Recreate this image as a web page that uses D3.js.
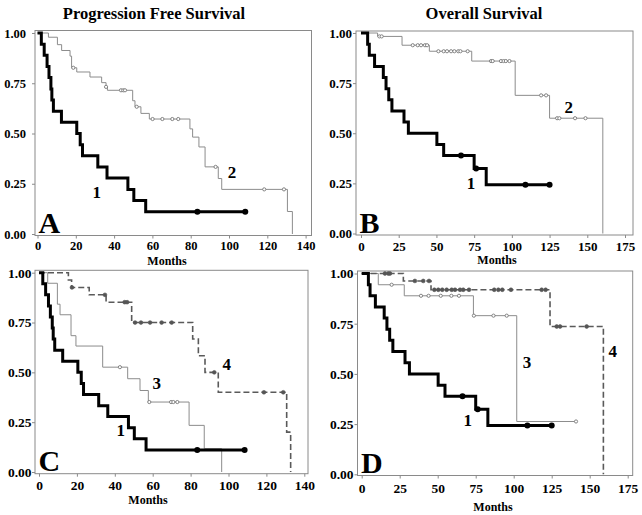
<!DOCTYPE html>
<html><head><meta charset="utf-8">
<script src="https://cdn.jsdelivr.net/npm/d3@7"></script>
<style>
body{margin:0;background:#fff;}
svg{display:block;}
text{font-family:"Liberation Serif","Times New Roman",serif;font-weight:bold;fill:#000;}
</style></head>
<body><svg id="c" width="642" height="515"></svg>
<script>
// ---------- data ----------
const yTicks = [0, 0.25, 0.5, 0.75, 1];
const pfsXTicks = [0, 20, 40, 60, 80, 100, 120, 140];
const osXTicks = [0, 25, 50, 75, 100, 125, 150, 175];
const panelTitles = ["Progression Free Survival", "Overall Survival"];
const panelLetters = ["A", "B", "C", "D"];
const axisLabel = "Months";

// Progression free survival, group 1
const pfs1Times = [2, 3.5, 5, 6, 7, 7.5, 8.3, 12.5, 20.5, 22.3, 23.5, 31.5, 36.3, 47.2, 50.3, 56.5];
const pfs1Surv  = [0.944, 0.889, 0.833, 0.778, 0.722, 0.667, 0.611, 0.556, 0.5, 0.444, 0.389, 0.333, 0.278, 0.222, 0.167, 0.111];
const pfs1Censor = [83.5, 108.5];
// PFS group 2
const pfs2Times = [5.7, 10.4, 12.6, 17.0, 17.8, 20.5, 27.4, 33.5, 35.8, 36.5, 49.7, 50.9, 54.0, 58.4, 79.6, 81.0, 84.3, 87.5, 94.4, 96.2, 130.5, 133.1];
const pfs2Surv  = [0.979, 0.942, 0.913, 0.885, 0.827, 0.806, 0.781, 0.753, 0.732, 0.715, 0.663, 0.633, 0.600, 0.572, 0.523, 0.482, 0.433, 0.334, 0.276, 0.222, 0.112, 0];
const pfs2Censor = [18.7, 35.8, 43.6, 44.8, 45.7, 51.8, 60.1, 65.2, 70.4, 73.5, 93.0, 118.4, 128.7];
// PFS group 3
const pfs3Times = [4.6, 9.7, 11.1, 16.9, 19.5, 33.6, 46.8, 53.3, 57.7, 79.2, 87.2, 96.4];
const pfs3Surv  = [0.947, 0.842, 0.789, 0.684, 0.632, 0.526, 0.468, 0.409, 0.351, 0.234, 0.117, 0];
const pfs3Censor = [42.7, 58.2, 69.7, 70.9, 73.0];
// PFS group 4
const pfs4Times = [15.5, 17.2, 26.5, 35.4, 48.9, 81.1, 84.1, 87.6, 94.6, 130.7, 132.8];
const pfs4Surv  = [0.963, 0.926, 0.889, 0.852, 0.75, 0.667, 0.583, 0.5, 0.4, 0.2, 0];
const pfs4Censor = [17.4, 34.8, 45.2, 46.5, 50.7, 53.8, 58.6, 64.7, 70.0, 92.5, 118.7, 128.9];

// Overall survival, group 1
const os1Times = [4.4, 5.5, 9, 14.8, 16.6, 18.4, 20.5, 28.5, 31.4, 50.3, 54.8, 75, 83];
const os1Surv  = [0.944, 0.889, 0.833, 0.778, 0.722, 0.667, 0.611, 0.556, 0.5, 0.444, 0.389, 0.324, 0.243];
const os1Censor = [66.3, 76.3, 109, 125];
// OS group 2
const os2Times = [11, 27.2, 45.3, 73.4, 102.2, 125, 160.3];
const os2Surv  = [0.983, 0.939, 0.909, 0.86, 0.689, 0.575, 0];
const os2Censor = [12.2, 13.7, 34.3, 37.6, 39.8, 42.4, 43.8, 51.3, 54.8, 57.0, 59.7, 61.9, 64.5, 65.9, 70.7, 86.2, 87.3, 92.8, 94.5, 96.0, 98.4, 119.4, 122.7, 130, 131.5, 141.9, 148.8];
// OS group 3
const os3Times = [10.9, 28, 73.5, 102];
const os3Surv  = [0.944, 0.889, 0.79, 0.263];
const os3Censor = [19.7, 39, 44, 52, 59, 64, 73.8, 86.7, 95.4, 141];
// OS group 4
const os4Times = [27.4, 45.6, 123.9, 159];
const os4Surv  = [0.963, 0.919, 0.736, 0];
const os4Censor = [15.3, 17.5, 18.6, 35, 40.5, 44.3, 47.8, 50.4, 53, 55.9, 59.2, 61.4, 64.7, 66.8, 70.6, 87.2, 89.9, 92.5, 98.2, 118.4, 121, 128.3, 130.5, 148];

// curve label anchors (data coordinates)
const labelsA = [["1", 30.9, 0.21], ["2", 101.6, 0.31]];
const labelsB = [["1", 72.9, 0.253], ["2", 137.7, 0.632]];
const labelsC = [["1", 43.1, 0.209], ["3", 62.1, 0.447], ["4", 99.1, 0.54]];
const labelsD = [["1", 69.7, 0.272], ["3", 108.8, 0.559], ["4", 165.1, 0.613]];

// ---------- styles ----------
const styles = {
  g1: {stroke:"#000", width:3, dash:null, mark:"dotBlack"},
  g2: {stroke:"#8c8c8c", width:1, dash:null, mark:"open"},
  g3: {stroke:"#8c8c8c", width:1, dash:null, mark:"open"},
  g4: {stroke:"#5a5a5a", width:1.6, dash:"6,3", mark:"dotGray"}
};
function curve(times, surv, censor, style){ return {times, surv, censor, style}; }

const panels = [
  {letter:panelLetters[0], xTicks:pfsXTicks, xMax:140,
   xr:[37.5,305.6], yr:[234,33], frame:[35,30.5,311.5,235.5], ytPad:6, tickFont:12.5, xLabY:245.5,
   monthsX:167, monthsY:264.5, labels:labelsA,
   curves:[curve(pfs2Times,pfs2Surv,pfs2Censor,styles.g2), curve(pfs1Times,pfs1Surv,pfs1Censor,styles.g1)]},
  {letter:panelLetters[1], xTicks:osXTicks, xMax:175,
   xr:[361,625], yr:[233.5,33], frame:[356,31,633,235], ytPad:1, tickFont:13, xLabY:246,
   monthsX:497, monthsY:263.5, labels:labelsB,
   curves:[curve(os2Times,os2Surv,os2Censor,styles.g2), curve(os1Times,os1Surv,os1Censor,styles.g1)]},
  {letter:panelLetters[2], xTicks:pfsXTicks, xMax:140,
   xr:[39,304.3], yr:[472,272.7], frame:[35,270.3,308,473.7], ytPad:0.5, tickFont:13.5, xLabY:485,
   monthsX:148, monthsY:503.5, labels:labelsC,
   curves:[curve(pfs3Times,pfs3Surv,pfs3Censor,styles.g3), curve(pfs4Times,pfs4Surv,pfs4Censor,styles.g4), curve(pfs1Times,pfs1Surv,pfs1Censor,styles.g1)]},
  {letter:panelLetters[3], xTicks:osXTicks, xMax:175,
   xr:[361.7,627.7], yr:[474.3,273.5], frame:[357.5,271,632.7,475.5], ytPad:1, tickFont:13.5, xLabY:488.5,
   monthsX:493, monthsY:510.5, labels:labelsD,
   curves:[curve(os3Times,os3Surv,os3Censor,styles.g3), curve(os4Times,os4Surv,os4Censor,styles.g4), curve(os1Times,os1Surv,os1Censor,styles.g1)]}
];

const svg = d3.select("#c");

// titles
svg.append("text").attr("x",154).attr("y",18.5).attr("text-anchor","middle").attr("font-size",16.5).text(panelTitles[0]);
svg.append("text").attr("x",484).attr("y",18.5).attr("text-anchor","middle").attr("font-size",16.5).text(panelTitles[1]);

function survAt(c, t){
  let s = 1;
  for (let i=0;i<c.times.length;i++){ if (c.times[i] <= t) s = c.surv[i]; }
  return s;
}

panels.forEach(p => {
  const x = d3.scaleLinear().domain([0,p.xMax]).range(p.xr);
  const y = d3.scaleLinear().domain([0,1]).range(p.yr);
  const [fl,ft,fr,fb] = p.frame;
  const g = svg.append("g");

  // frame
  g.append("rect").attr("x",fl).attr("y",ft).attr("width",fr-fl).attr("height",fb-ft)
    .attr("fill","none").attr("stroke","#8a8a8a").attr("stroke-width",1);

  // y axis
  const ya = g.append("g").attr("transform",`translate(${fl},0)`)
    .call(d3.axisLeft(y).tickValues(yTicks).tickFormat(d3.format(".2f")).tickSize(3).tickPadding(p.ytPad));
  ya.select(".domain").remove();
  ya.selectAll("line").attr("stroke","#8a8a8a");
  ya.selectAll("text").attr("font-size",p.tickFont).attr("font-family",null).style("font-weight","bold");

  // x axis
  const xa = g.append("g").attr("transform",`translate(0,${fb})`)
    .call(d3.axisBottom(x).tickValues(p.xTicks).tickFormat(d3.format("d")).tickSize(3));
  xa.select(".domain").remove();
  xa.selectAll("line").attr("stroke","#8a8a8a");
  xa.selectAll("text").attr("font-size",p.tickFont).attr("font-family",null)
    .attr("y", p.xLabY - fb).attr("dy","0.35em");

  g.append("text").attr("x",p.monthsX).attr("y",p.monthsY).attr("text-anchor","middle")
    .attr("font-size",12).text(axisLabel);

  // curves
  const line = d3.line().x(d=>x(d[0])).y(d=>y(d[1])).curve(d3.curveStepAfter);
  p.curves.forEach(c => {
    const pts = [[0,1]].concat(c.times.map((t,i)=>[t,c.surv[i]]));
    const lastT = c.times[c.times.length-1];
    const maxC = c.censor.length ? d3.max(c.censor) : 0;
    if (maxC > lastT) pts.push([maxC, c.surv[c.surv.length-1]]);
    g.append("path").attr("d",line(pts)).attr("fill","none")
      .attr("stroke",c.style.stroke).attr("stroke-width",c.style.width)
      .attr("stroke-dasharray",c.style.dash).attr("stroke-linejoin","miter").attr("stroke-linecap","butt");
    const m = g.selectAll(null).data(c.censor).enter().append("circle")
      .attr("cx",d=>x(d)).attr("cy",d=>y(survAt(c,d)));
    if (c.style.mark==="dotBlack") m.attr("r",3).attr("fill","#000");
    else if (c.style.mark==="open") m.attr("r",1.6).attr("fill","#fff").attr("stroke","#777").attr("stroke-width",0.9);
    else m.attr("r",1.9).attr("fill","#555").attr("stroke","#555").attr("stroke-width",0.6);
  });

  // curve labels
  p.labels.forEach(l => {
    g.append("text").attr("x",x(l[1])).attr("y",y(l[2])).attr("dy","0.35em")
      .attr("text-anchor","middle").attr("font-size",17).text(l[0]);
  });

  // panel letter
  g.append("text").attr("x",fl+3.5).attr("y",fb-2.5).attr("font-size",30).text(p.letter);
});
</script></body></html>
